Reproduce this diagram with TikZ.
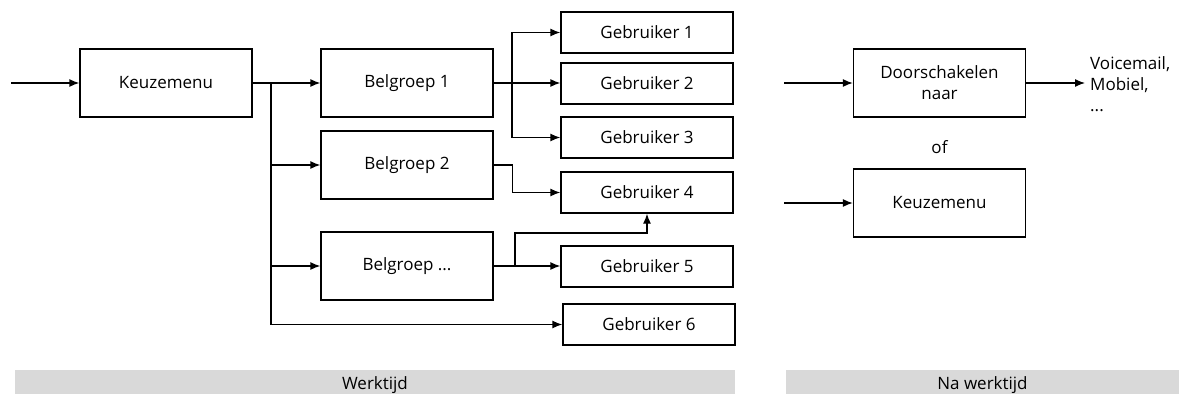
\documentclass[tikz,border=0pt]{standalone}
\usepackage{fontspec}
\setmainfont{Open Sans}
\usetikzlibrary{arrows.meta}
\begin{document}
\begin{tikzpicture}[x=1pt,y=-1pt,
  box/.style={draw, line width=1.3pt, inner sep=0pt, font=\fontsize{17}{20}\selectfont},
  bigbox/.style={box, minimum width=172pt, minimum height=68pt},
  userbox/.style={box, minimum width=172pt, minimum height=41pt},
  arr/.style={line width=1.3pt, -{Latex[length=10pt,width=8pt]}},
  ln/.style={line width=1.3pt},
  lbl/.style={font=\fontsize{17}{20}\selectfont, inner sep=0pt}]
\useasboundingbox (0,0) rectangle (1179,394);
% left part
\node[bigbox] (km) at (166,83) {Keuzemenu};
\node[bigbox] (bg1) at (407,83) {Belgroep 1};
\node[bigbox] (bg2) at (407,165) {Belgroep 2};
\node[bigbox] (bg3) at (407,266) {Belgroep ...};
\node[userbox] (g1) at (647,32.5) {Gebruiker 1};
\node[userbox] (g2) at (647,83.5) {Gebruiker 2};
\node[userbox] (g3) at (647,137.5) {Gebruiker 3};
\node[userbox] (g4) at (647,192.5) {Gebruiker 4};
\node[userbox] (g5) at (647,266.5) {Gebruiker 5};
\node[userbox] (g6) at (649,324.5) {Gebruiker 6};
\coordinate (in1) at (11,83);
\coordinate (j1) at (271,83);
\coordinate (j2) at (512,83);
\coordinate (j3) at (515,266);
\coordinate (k) at (515,233);
\draw[arr] (in1) -- (km.west);
\draw[arr] (km.east) -- (bg1.west);
\draw[ln] (j1) -- (j1 |- g6.west);
\draw[arr] (j1) |- (bg2.west);
\draw[arr] (j1) |- (bg3.west);
\draw[arr] (j1) |- (g6.west);
\draw[arr] (bg1.east) -- (bg1.east -| g2.west);
\draw[arr] (j2) |- (g1.west);
\draw[arr] (j2) |- (g3.west);
\draw[arr] (bg2.east) -- ++(19,0) |- (g4.west);
\draw[arr] (bg3.east) -- (bg3.east -| g5.west);
\draw[arr] (j3) -- (k) -| (g4.south);
% right part
\node[bigbox, align=center, font=\fontsize{17}{21}\selectfont] (dn) at (939.5,83) {Doorschakelen\\naar};
\node[bigbox] (km2) at (939.5,203) {Keuzemenu};
\coordinate (in2) at (784,83);
\coordinate (in3) at (784,203);
\coordinate (out) at (1085,83);
\draw[arr] (in2) -- (dn.west);
\draw[arr] (in3) -- (km2.west);
\draw[arr] (dn.east) -- (out);
\node[lbl, anchor=west, align=left, font=\fontsize{17}{21}\selectfont] (dest) at (1090,84) {Voicemail,\\Mobiel,\\...};
\node[lbl] (of) at (939.5,147) {of};
% bars
\fill[black!15] (15,370) rectangle (735,394);
\fill[black!15] (786,370) rectangle (1179,394);
\node[lbl] (wt) at (375,385) {Werktijd};
\node[lbl] (nwt) at (982.5,385) {Na werktijd};
\end{tikzpicture}
\end{document}
